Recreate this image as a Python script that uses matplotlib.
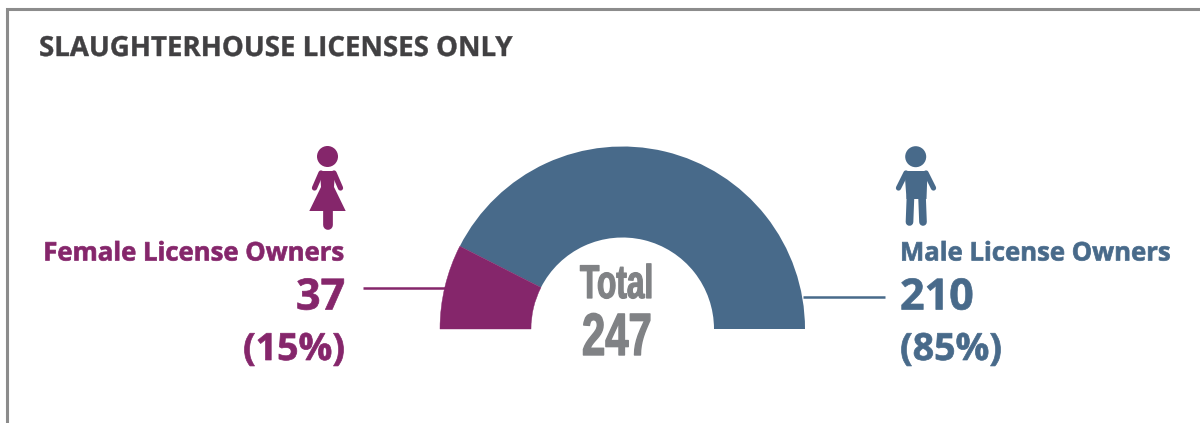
import matplotlib
matplotlib.use('Agg')
import matplotlib.pyplot as plt
from matplotlib.patches import Wedge, Circle, Polygon
from matplotlib.patheffects import AbstractPathEffect
from matplotlib.transforms import Affine2D

# Licence owners by gender
labels = ['Female License Owners', 'Male License Owners']
owners = [37, 210]
shares = ['(15%)', '(85%)']
total = 247

purple = '#85266b'
blue = '#486a8a'
grey = '#808285'
frame_col = '#8c8c8c'

plt.rcParams['font.family'] = ['Open Sans', 'DejaVu Sans']


class Squeeze(AbstractPathEffect):
    """Narrow a text horizontally and thicken its strokes, no condensed font around."""
    def __init__(self, sx, extra=1.0):
        super().__init__()
        self.sx = sx
        self.extra = extra

    def draw_path(self, renderer, gc, tpath, affine, rgbFace=None):
        gc0 = renderer.new_gc()
        gc0.copy_properties(gc)
        gc0.set_foreground(rgbFace)
        gc0.set_linewidth(self.extra)
        renderer.draw_path(gc0, tpath, Affine2D().scale(self.sx, 1) + affine, rgbFace)
        gc0.restore()


fig = plt.figure(figsize=(12, 4.23), dpi=100)
ax = fig.add_axes([0, 0, 1, 1])
ax.set_xlim(0, 1200)
ax.set_ylim(423, 0)  # pixel style coordinates, y goes down
ax.axis('off')

# frame, open to the right and bottom
ax.plot([6.5, 6.5, 1200], [423, 9, 9], color=frame_col, lw=2.2, solid_joinstyle='miter')

ax.text(39, 48.5, 'SLAUGHTERHOUSE LICENSES ONLY', fontsize=19.9, fontweight='bold',
        color='#414042', va='center', ha='left', path_effects=[Squeeze(1.0, 0.3)])

# half donut, angles run from 180 to 360 because y is flipped
cx, cy = 622.5, 329
r_out, r_in = 182.5, 91.5
split = 180 + 180 * owners[0] / total
ax.add_patch(Wedge((cx, cy), r_out, split, 360, width=r_out - r_in, fc=blue, ec='none'))
ax.add_patch(Wedge((cx, cy), r_out, 180, split, width=r_out - r_in, fc=purple, ec=purple, lw=0.3))

# leader lines
ax.plot([363, 445], [288, 288], color=purple, lw=1.8, solid_capstyle='butt')
ax.plot([803, 885], [297, 297], color=blue, lw=1.8, solid_capstyle='butt')

heavy = [Squeeze(1.0, 0.5)]

# left block
ax.text(345, 253, labels[0], fontsize=18.5, fontweight='bold', color=purple, ha='right', va='center', path_effects=heavy)
ax.text(345, 298, str(owners[0]), fontsize=31, fontweight='bold', color=purple, ha='right', va='center', path_effects=heavy)
ax.text(345, 350, shares[0], fontsize=27, fontweight='bold', color=purple, ha='right', va='center', path_effects=heavy)

# right block
ax.text(900, 253, labels[1], fontsize=18.5, fontweight='bold', color=blue, ha='left', va='center', path_effects=heavy)
ax.text(900, 298, str(owners[1]), fontsize=31, fontweight='bold', color=blue, ha='left', va='center', path_effects=heavy)
ax.text(900, 350, shares[1], fontsize=27, fontweight='bold', color=blue, ha='left', va='center', path_effects=heavy)

# centre total, anchored on its baseline and left edge
ax.text(580, 298, 'Total', fontsize=34, fontweight='bold', color=grey, ha='left', va='baseline',
        family=['Liberation Sans', 'DejaVu Sans'], path_effects=[Squeeze(0.67, 0.9)])
ax.text(582, 355, str(total), fontsize=43, fontweight='bold', color=grey, ha='left', va='baseline',
        family=['Liberation Sans', 'DejaVu Sans'], path_effects=[Squeeze(0.7, 1.0)])

# woman icon
ax.add_patch(Circle((327.5, 156.5), 10.5, fc=purple, ec='none'))
ax.add_patch(Polygon([(320, 171), (335, 171), (334, 187), (345.7, 211), (309.3, 211), (321, 187)],
                     closed=True, fc=purple, ec='none'))
ax.plot([321, 314.5], [173, 188], color=purple, lw=3.8, solid_capstyle='round')
ax.plot([334, 340.5], [173, 188], color=purple, lw=3.8, solid_capstyle='round')
ax.plot([328, 328], [208, 225], color=purple, lw=7, solid_capstyle='round')

# man icon
ax.add_patch(Circle((915.7, 156.7), 10.5, fc=blue, ec='none'))
ax.add_patch(Polygon([(904.5, 171), (927.5, 171), (926.5, 199), (906.5, 199)],
                     closed=True, fc=blue, ec='none'))
ax.plot([906, 898.5], [173, 188], color=blue, lw=3.8, solid_capstyle='round')
ax.plot([926, 933.5], [173, 188], color=blue, lw=3.8, solid_capstyle='round')
ax.plot([910.5, 909.5], [196, 222], color=blue, lw=5.5, solid_capstyle='round')
ax.plot([922, 923], [196, 222], color=blue, lw=5.5, solid_capstyle='round')

fig.savefig('out.png', dpi=100)
